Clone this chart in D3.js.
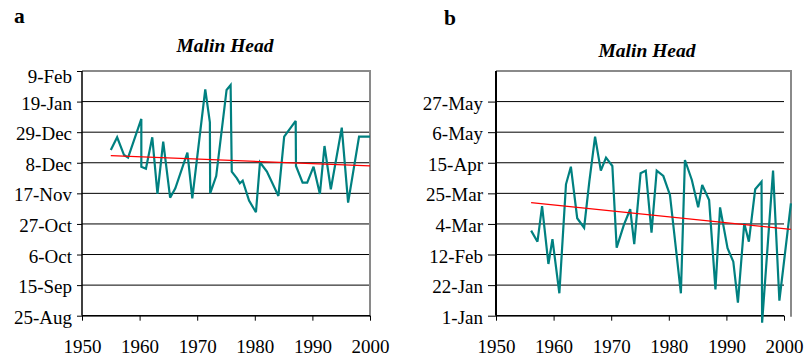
<!DOCTYPE html>
<html>
<head>
<meta charset="utf-8">
<script src="https://cdn.jsdelivr.net/npm/d3@7"></script>
<style>
  body { margin: 0; background: #fff; }
  svg { display: block; }
  text { font-family: "Liberation Serif", "Times New Roman", serif; fill: #000; }
</style>
</head>
<body>
<svg id="chart" width="809" height="360"></svg>
<script>
// ---- Panel a: dates counted in days from 25 August ----
const yearsA = [1955.0, 1956.1, 1957.3, 1958.0, 1960.3, 1960.3, 1961.1, 1962.2, 1963.1, 1964.1,
                1965.3, 1966.2, 1968.3, 1969.15, 1971.4, 1972.2, 1972.25, 1973.3, 1975.1, 1975.8,
                1976.0, 1976.9, 1977.4, 1977.9, 1979.0, 1980.2, 1980.9, 1982.1, 1984.1, 1985.1,
                1987.1, 1987.15, 1988.3, 1989.1, 1990.2, 1991.3, 1992.1, 1993.2, 1995.1, 1996.2,
                1998.1, 2000.0];
const daysA  = [113.8, 122.5, 110.3, 108.5, 135.1, 102.3, 100.9, 122.5, 83.6, 119.5,
                81.0, 87.5, 111.9, 80.6, 155.4, 132.8, 84.0, 95.9, 155.0, 158.4,
                98.9, 94.3, 90.9, 92.7, 79.0, 71.0, 105.3, 98.9, 82.2, 122.9,
                133.7, 102.8, 91.3, 91.3, 102.3, 83.6, 116.5, 86.8, 129.1, 77.6,
                122.9, 122.9];
const trendYearsA = [1955, 2000];
const trendDaysA  = [109.9, 102.8];
const tickDaysA   = [0, 21, 42, 63, 84, 105, 126, 147, 168];
const tickLabelsA = ["25-Aug", "15-Sep", "6-Oct", "27-Oct", "17-Nov", "8-Dec", "29-Dec", "19-Jan", "9-Feb"];

// ---- Panel b: dates counted in days from 1 January ----
const yearsB = [1956.1, 1957.2, 1958.0, 1959.1, 1959.8, 1961.0, 1962.15, 1963.0, 1964.1, 1965.3,
                1966.2, 1967.2, 1968.2, 1969.1, 1970.2, 1970.95, 1972.2, 1973.3, 1974.0, 1975.1,
                1976.0, 1977.0, 1977.9, 1979.05, 1980.2, 1982.1, 1982.8, 1984.0, 1985.1, 1985.8,
                1987.0, 1988.1, 1988.9, 1990.2, 1991.2, 1992.0, 1993.1, 1993.9, 1995.0, 1996.1,
                1996.2, 1998.1, 1999.2, 2001.2];
const daysB  = [58.4, 50.8, 75.3, 35.5, 52.5, 15.4, 90.2, 102.3, 66.9, 60.4,
                92.0, 122.9, 99.6, 108.5, 102.8, 46.7, 62.3, 73.1, 49.2, 97.8,
                99.6, 57.0, 99.6, 95.9, 82.9, 15.4, 106.9, 93.2, 74.4, 89.7,
                79.4, 18.1, 74.4, 46.3, 37.1, 8.9, 63.4, 50.8, 86.8, 92.0,
                -4.8, 99.6, 10.3, 77.2];
const trendYearsB = [1956.1, 2001.2];
const trendDaysB  = [77.6, 59.3];
const tickDaysB   = [0, 21, 42, 63, 84, 105, 126, 147];
const tickLabelsB = ["1-Jan", "22-Jan", "12-Feb", "4-Mar", "25-Mar", "15-Apr", "6-May", "27-May"];

const yearTicks = [1950, 1960, 1970, 1980, 1990, 2000];
const dayMax = 168;

const svg = d3.select("#chart");

function drawPanel(cfg) {
  const g = svg.append("g");
  const x = d3.scaleLinear().domain([1950, 2000]).range([cfg.left, cfg.axisRight]);
  const y = d3.scaleLinear().domain([0, dayMax]).range([cfg.bottom, cfg.top]);

  // panel letter and title
  g.append("text").attr("x", cfg.letterX).attr("y", cfg.letterY)
    .style("font-size", "21.5px").style("font-weight", "bold").text(cfg.letter);
  g.append("text").attr("x", cfg.titleX).attr("y", cfg.titleY)
    .attr("text-anchor", "middle")
    .style("font-size", "19.5px").style("font-weight", "bold").style("font-style", "italic")
    .text(cfg.title);

  // horizontal gridlines
  g.append("g").selectAll("line").data(cfg.tickDays).join("line")
    .attr("x1", cfg.left).attr("x2", cfg.axisRight)
    .attr("y1", d => y(d)).attr("y2", d => y(d))
    .attr("stroke", "#000").attr("stroke-width", 1);

  // plot-area border (top and right)
  g.append("path")
    .attr("d", `M${cfg.left},${cfg.top}H${cfg.frameRight}V${cfg.bottom + 1}`)
    .attr("fill", "none").attr("stroke", "#8a8a8a").attr("stroke-width", 2);

  // y axis: ticks and date labels
  const yAxis = d3.axisLeft(y).tickValues(cfg.tickDays).tickSize(cfg.tickLen).tickPadding(5)
    .tickFormat((d, i) => cfg.tickLabels[i]);
  const ya = g.append("g").attr("transform", `translate(${cfg.left},0)`).call(yAxis);
  ya.select(".domain").remove();
  ya.selectAll(".tick line").attr("stroke", "#000");
  ya.selectAll(".tick text").style("font-size", "19px")
    .attr("dy", d => d === dayMax ? "0.6em" : "0.4em")
    .style("font-family", "'Liberation Serif', 'Times New Roman', serif").attr("fill", "#000");

  // x axis: ticks and year labels
  const xAxis = d3.axisBottom(x).tickValues(yearTicks).tickSize(5).tickPadding(24)
    .tickFormat(d3.format("d"));
  const xa = g.append("g").attr("transform", `translate(0,${cfg.bottom})`).call(xAxis);
  xa.select(".domain").remove();
  xa.selectAll(".tick line").attr("stroke", "#000");
  xa.selectAll(".tick text").style("font-size", "19px").attr("dy", "0.71em")
    .attr("y", 24)
    .style("font-family", "'Liberation Serif', 'Times New Roman', serif").attr("fill", "#000");

  // axis lines
  g.append("line").attr("x1", cfg.left).attr("x2", cfg.left)
    .attr("y1", cfg.top).attr("y2", cfg.bottom)
    .attr("stroke", "#000").attr("stroke-width", cfg.axisWidth);
  g.append("line").attr("x1", cfg.left).attr("x2", cfg.axisRight)
    .attr("y1", cfg.bottom).attr("y2", cfg.bottom)
    .attr("stroke", "#000").attr("stroke-width", 1.5);

  // yearly series
  const pts = cfg.years.map((yr, i) => [yr, cfg.days[i]]);
  g.append("path").datum(pts)
    .attr("fill", "none").attr("stroke", "#008080").attr("stroke-width", 2.2)
    .attr("stroke-linejoin", "miter").attr("stroke-miterlimit", 3)
    .attr("d", d3.line().x(d => x(d[0])).y(d => y(d[1])));

  // linear trend
  const tr = cfg.trendYears.map((yr, i) => [yr, cfg.trendDays[i]]);
  g.append("path").datum(tr)
    .attr("fill", "none").attr("stroke", "#ff0000").attr("stroke-width", 1.3)
    .attr("d", d3.line().x(d => x(d[0])).y(d => y(d[1])));
}

drawPanel({
  letter: "a", letterX: 14, letterY: 23.3,
  title: "Malin Head", titleX: 225, titleY: 52,
  left: 82, axisRight: 370, frameRight: 370, top: 71, bottom: 315.7,
  tickLen: 5, axisWidth: 1.5,
  tickDays: tickDaysA, tickLabels: tickLabelsA,
  years: yearsA, days: daysA, trendYears: trendYearsA, trendDays: trendDaysA
});

drawPanel({
  letter: "b", letterX: 444, letterY: 25.3,
  title: "Malin Head", titleX: 647, titleY: 57,
  left: 496, axisRight: 784, frameRight: 791, top: 71, bottom: 315.7,
  tickLen: 8, axisWidth: 2,
  tickDays: tickDaysB, tickLabels: tickLabelsB,
  years: yearsB, days: daysB, trendYears: trendYearsB, trendDays: trendDaysB
});
</script>
</body>
</html>
